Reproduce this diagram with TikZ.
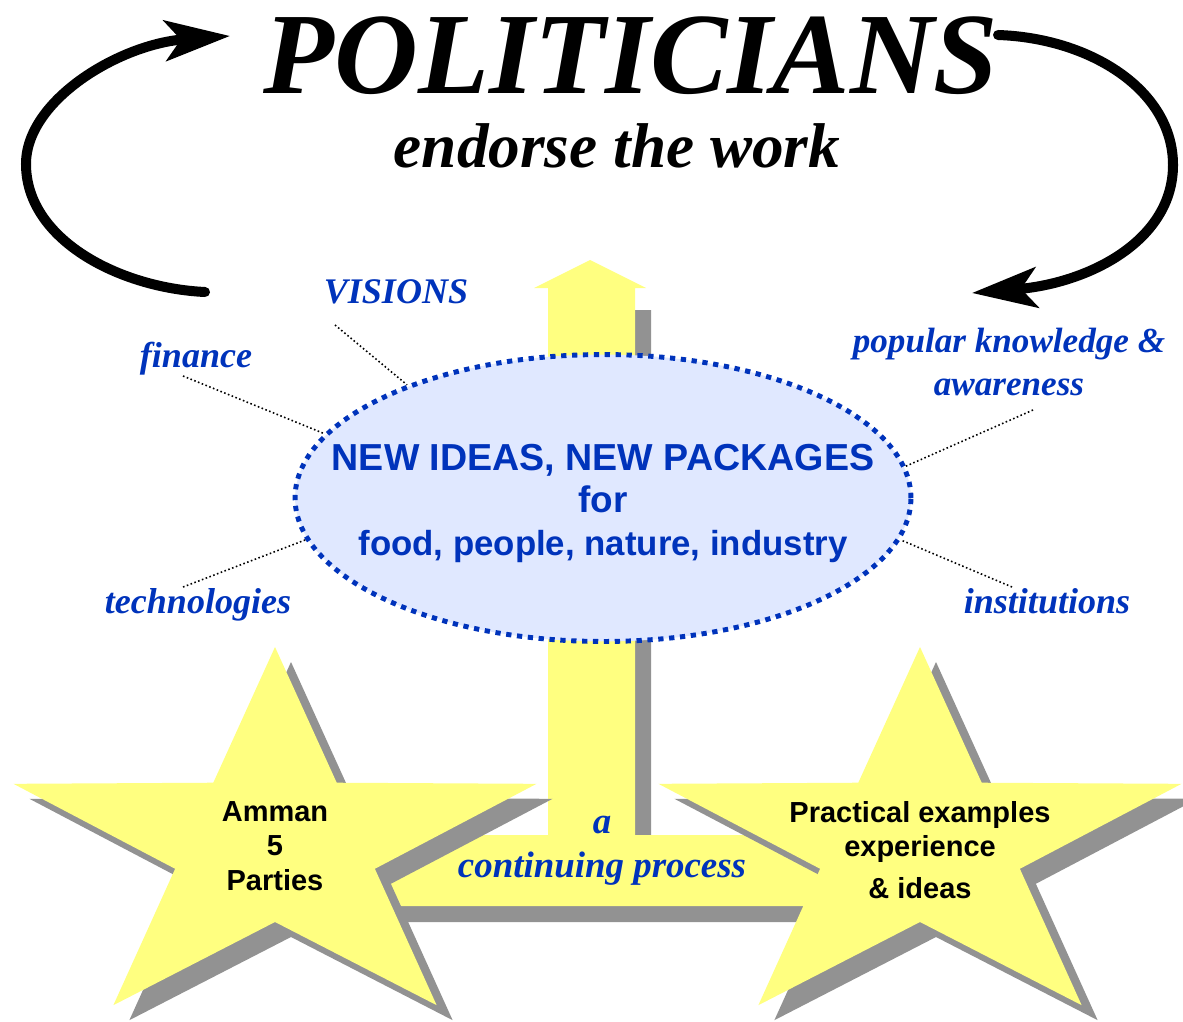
\documentclass[tikz,border=0pt]{standalone}
\usepackage{fontspec}
\setmainfont{Liberation Serif}
\setsansfont{Liberation Sans}
\usetikzlibrary{arrows.meta,shapes.geometric}

\definecolor{staryellow}{RGB}{255,255,128}
\definecolor{shadowgray}{RGB}{146,146,146}
\definecolor{ideablue}{RGB}{0,51,187}
\definecolor{ideafill}{RGB}{224,232,255}

% ten corners of a (stretched) five-pointed star round (0,0)
\newcommand{\starpath}{(-90:275 and 198) -- (-54:105 and 77) -- (-18:275 and 198) -- (18:105 and 77) -- (54:275 and 198) -- (90:105 and 77) -- (126:275 and 198) -- (162:105 and 77) -- (198:275 and 198) -- (234:105 and 77) -- cycle}

\begin{document}
\begin{tikzpicture}[x=0.02cm,y=-0.02cm,
    leader/.style={black,line width=0.9pt,dash pattern=on 0.9pt off 1.4pt},
    bigarrow/.style={line width=5.7pt,line cap=round,-{Stealth[length=37pt,width=23pt,inset=9pt]}},
    tag/.style={text=ideablue,font=\fontsize{20.5}{24}\selectfont\bfseries\itshape,inner sep=0pt,align=center},
    starlabel/.style={font=\sffamily\bfseries\fontsize{16.5}{19.5}\selectfont,align=center,inner sep=0pt}]
  \useasboundingbox (0,0) rectangle (1183,1021);

  % Bayangan dan batang T kuning dengan kepala panah
  \fill[shadowgray] (564,310) -- (651,310) -- (651,851) -- (916,851) -- (916,922)
    -- (316,922) -- (316,851) -- (564,851) -- cycle;
  \fill[staryellow] (590,260) -- (646,288) -- (635,288) -- (635,835) -- (900,835)
    -- (900,906) -- (300,906) -- (300,835) -- (548,835) -- (548,288) -- (534,288) -- cycle;

  % Elips ide baru (baris terakhir sebagai acuan base)
  \node[ellipse,draw=ideablue,fill=ideafill,line width=2.8pt,dash pattern=on 3pt off 3.2pt,
    minimum width=12.32cm,minimum height=5.74cm,inner sep=0pt] (ideas) at (603,498) {};
  \node[anchor=base,text=ideablue,font=\sffamily\bfseries\fontsize{21}{24}\selectfont,
    align=center,inner sep=0pt] (ideastext) at (603,555)
    {{\fontsize{21.4}{24}\selectfont NEW IDEAS, NEW PACKAGES}\\for\\
     {\fontsize{19.8}{24}\selectfont food, people, nature, industry}};

  % Bintang kiri dan kanan dengan bayangan
  \foreach \cx in {275,920}{
      \fill[shadowgray,shift={(\cx+16,860)}] \starpath;
      \fill[staryellow,shift={(\cx,845)}] \starpath;
    }
  \node[starlabel,anchor=base] (amman) at (275,890) {Amman\\5\\Parties};
  \node[starlabel,anchor=base] (practical) at (920,898)
    {Practical examples\\experience\\[4pt]\& ideas};

  % Teks proses
  \node[tag,anchor=base,font=\fontsize{21}{25}\selectfont\bfseries\itshape] (proc) at (602,877)
    {a\\continuing process};

  % Label di sekitar elips
  \node[tag,anchor=base] (vis) at (396,303) {VISIONS};
  \node[tag,anchor=base] (fin) at (196,367) {finance};
  \node[tag,anchor=base,font=\fontsize{20}{24}\selectfont\bfseries\itshape] (pop) at (1009,395)
    {popular knowledge \&\\awareness};
  \node[tag,anchor=base] (tech) at (198,613) {technologies};
  \node[tag,anchor=base] (inst) at (1047,613) {institutions};

  % Garis putus-putus ke elips
  \coordinate (visend) at (335,325);
  \coordinate (finend) at (183,376);
  \coordinate (popend) at (1033,410);
  \coordinate (techend) at (183,587);
  \coordinate (instend) at (1012,587);
  \draw[leader] (visend) -- (ideas.150);
  \draw[leader] (finend) -- (ideas.167);
  \draw[leader] (popend) -- (ideas.6);
  \draw[leader] (techend) -- (ideas.188);
  \draw[leader] (instend) -- (ideas.352);

  % Judul
  \node[anchor=base,inner sep=0pt,font=\fontsize{66}{70}\selectfont\bfseries\itshape] (pol) at (631,93) {POLITICIANS};
  \node[anchor=base,inner sep=0pt,font=\fontsize{36}{40}\selectfont\bfseries\itshape] (endorse) at (617,167) {endorse the work};

  % Panah melengkung besar
  \coordinate (lstart) at (205,292);
  \coordinate (ltip) at (230,36);
  \coordinate (rstart) at (998,35);
  \coordinate (rtip) at (972,293);
  \draw[bigarrow] (lstart) .. controls (120,288) and (26,240) .. (26,164)
    .. controls (26,100) and (120,44) .. (ltip);
  \draw[bigarrow] (rstart) .. controls (1090,38) and (1173,90) .. (1173,165)
    .. controls (1173,240) and (1090,283) .. (rtip);
\end{tikzpicture}
\end{document}
